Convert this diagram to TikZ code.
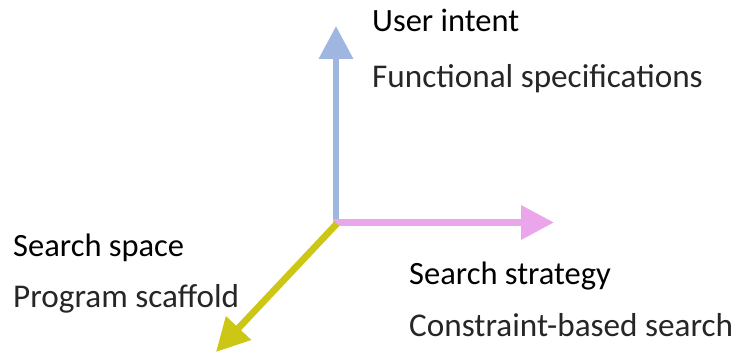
\documentclass[tikz,border=0pt]{standalone}
\usepackage{fontspec}
\setmainfont{Carlito}
\usetikzlibrary{arrows.meta}
\definecolor{axisblue}{HTML}{9FB6E0}
\definecolor{axispink}{HTML}{EBA6EB}
\definecolor{axisolive}{HTML}{CBC714}
\tikzset{
  axis/.style={line width=6.7pt, -{Triangle[length=33pt,width=33pt]}},
  heading/.style={anchor=base west, inner sep=0pt, font=\fontsize{32.5}{38}\selectfont},
  subhead/.style={anchor=base west, inner sep=0pt, text=black!85, font=\fontsize{33.2}{38}\selectfont}
}
\begin{document}
\begin{tikzpicture}[x=1pt, y=-1pt]
  \useasboundingbox (0,0) rectangle (741,352);
  % origin of the three axes and their tips
  \coordinate (o) at (336,222.5);
  \coordinate (up) at (336,26);
  \coordinate (right) at (554,222.5);
  \coordinate (down) at (216,352);
  \draw[axis, axisblue] ([yshift=-3.3pt]o) -- (up);
  \draw[axis, axispink] ([xshift=-3pt]o) -- (right);
  \draw[axis, axisolive] ([xshift=1pt,yshift=-1pt]o) -- (down);
  % labels
  \node[heading] (ui) at (372,32) {User intent};
  \node[subhead] (fs) at (372,88) {Functional specifications};
  \node[heading] (ss) at (13,257) {Search space};
  \node[subhead] (ps) at (13,308) {Program scaffold};
  \node[heading] (st) at (409,285) {Search strategy};
  \node[subhead] (cb) at (409,337) {Constraint-based search};
\end{tikzpicture}
\end{document}
